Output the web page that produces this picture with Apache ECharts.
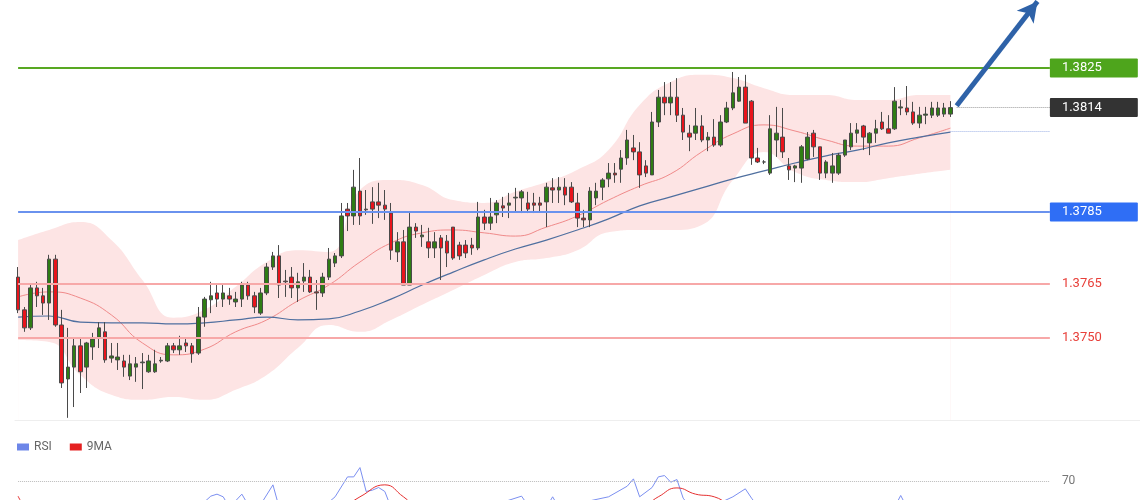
<!DOCTYPE html>
<html><head><meta charset="utf-8">
<script src="https://cdn.jsdelivr.net/npm/echarts@6/dist/echarts.min.js"></script>
<style>html,body{margin:0;padding:0;background:#fff}#c{width:1140px;height:500px}</style>
</head><body><div id="c"></div>
<script>
// candles: [open, close, low, high]
const candles = [
[1.37669,1.37578,1.37569,1.37697],[1.37578,1.37528,1.37517,1.37586],[1.37528,1.37639,1.37522,1.37647],[1.37639,1.37617,1.37586,1.37656],
[1.37617,1.37597,1.37564,1.37639],[1.37597,1.37719,1.37550,1.37731],[1.37719,1.37536,1.37531,1.37731],[1.37536,1.37375,1.37361,1.37578],
[1.37386,1.37419,1.37278,1.37528],[1.37419,1.37478,1.37308,1.37500],[1.37478,1.37406,1.37347,1.37497],[1.37419,1.37486,1.37361,1.37489],
[1.37475,1.37497,1.37439,1.37514],[1.37500,1.37528,1.37472,1.37544],[1.37517,1.37439,1.37431,1.37544],[1.37444,1.37450,1.37431,1.37486],
[1.37439,1.37447,1.37411,1.37486],[1.37436,1.37419,1.37392,1.37453],[1.37394,1.37428,1.37383,1.37453],[1.37419,1.37428,1.37378,1.37447],
[1.37431,1.37433,1.37358,1.37458],[1.37406,1.37436,1.37403,1.37453],[1.37406,1.37428,1.37403,1.37467],[1.37436,1.37438,1.37431,1.37447],
[1.37436,1.37478,1.37433,1.37486],[1.37478,1.37467,1.37458,1.37486],[1.37467,1.37478,1.37453,1.37506],[1.37486,1.37478,1.37461,1.37497],
[1.37478,1.37456,1.37431,1.37486],[1.37458,1.37558,1.37453,1.37586],[1.37558,1.37608,1.37531,1.37614],[1.37606,1.37617,1.37569,1.37656],
[1.37625,1.37608,1.37586,1.37647],[1.37608,1.37625,1.37586,1.37647],[1.37617,1.37608,1.37592,1.37639],[1.37600,1.37608,1.37586,1.37628],
[1.37608,1.37647,1.37586,1.37656],[1.37647,1.37617,1.37606,1.37656],[1.37617,1.37586,1.37569,1.37628],[1.37569,1.37625,1.37564,1.37639],
[1.37625,1.37697,1.37619,1.37708],[1.37697,1.37728,1.37689,1.37739],[1.37728,1.37647,1.37611,1.37758],[1.37658,1.37656,1.37614,1.37689],
[1.37669,1.37639,1.37611,1.37697],[1.37639,1.37656,1.37600,1.37681],[1.37658,1.37669,1.37628,1.37708],[1.37669,1.37628,1.37625,1.37689],
[1.37628,1.37625,1.37578,1.37661],[1.37625,1.37669,1.37614,1.37681],[1.37669,1.37719,1.37661,1.37750],[1.37708,1.37728,1.37697,1.37736],
[1.37728,1.37839,1.37722,1.37875],[1.37858,1.37839,1.37797,1.37875],[1.37839,1.37919,1.37814,1.37967],[1.37908,1.37839,1.37814,1.38000],
[1.37858,1.37856,1.37842,1.37911],[1.37878,1.37858,1.37817,1.37919],[1.37878,1.37869,1.37833,1.37931],[1.37869,1.37858,1.37828,1.37911],
[1.37847,1.37744,1.37717,1.37875],[1.37739,1.37767,1.37711,1.37794],[1.37767,1.37647,1.37647,1.37800],[1.37647,1.37808,1.37647,1.37847],
[1.37808,1.37797,1.37778,1.37819],[1.37781,1.37786,1.37753,1.37814],[1.37767,1.37750,1.37722,1.37806],[1.37750,1.37767,1.37722,1.37794],
[1.37778,1.37750,1.37661,1.37786],[1.37769,1.37736,1.37697,1.37786],[1.37808,1.37722,1.37717,1.37808],[1.37758,1.37728,1.37717,1.37767],
[1.37758,1.37736,1.37722,1.37772],[1.37758,1.37750,1.37731,1.37778],[1.37750,1.37836,1.37744,1.37878],[1.37836,1.37819,1.37800,1.37856],
[1.37819,1.37836,1.37800,1.37889],[1.37842,1.37875,1.37819,1.37883],[1.37867,1.37861,1.37836,1.37892],[1.37869,1.37875,1.37833,1.37903],
[1.37889,1.37891,1.37850,1.37917],[1.37889,1.37906,1.37847,1.37911],[1.37875,1.37858,1.37847,1.37906],[1.37875,1.37869,1.37847,1.37903],
[1.37875,1.37869,1.37850,1.37892],[1.37878,1.37919,1.37808,1.37931],[1.37917,1.37911,1.37875,1.37944],[1.37911,1.37919,1.37875,1.37947],
[1.37919,1.37897,1.37869,1.37944],[1.37919,1.37878,1.37875,1.37933],[1.37875,1.37833,1.37808,1.37903],[1.37833,1.37828,1.37808,1.37856],
[1.37828,1.37908,1.37808,1.37919],[1.37889,1.37908,1.37869,1.37931],[1.37919,1.37939,1.37883,1.37944],[1.37942,1.37958,1.37919,1.37986],
[1.37958,1.37953,1.37931,1.37986],[1.37969,1.38000,1.37931,1.38022],[1.38000,1.38050,1.37981,1.38078],[1.38028,1.38017,1.37994,1.38064],
[1.38017,1.37953,1.37917,1.38044],[1.37978,1.37958,1.37947,1.37994],[1.37953,1.38100,1.37953,1.38128],[1.38100,1.38169,1.38086,1.38189],
[1.38169,1.38153,1.38119,1.38211],[1.38153,1.38169,1.38119,1.38211],[1.38169,1.38119,1.38100,1.38222],[1.38119,1.38072,1.38050,1.38139],
[1.38069,1.38058,1.38019,1.38092],[1.38069,1.38089,1.38050,1.38139],[1.38089,1.38050,1.38044,1.38119],[1.38050,1.38058,1.38019,1.38072],
[1.38058,1.38036,1.38031,1.38108],[1.38036,1.38100,1.38031,1.38119],[1.38100,1.38139,1.38097,1.38156],[1.38139,1.38181,1.38133,1.38239],
[1.38158,1.38197,1.38156,1.38225],[1.38197,1.38097,1.38097,1.38231],[1.38158,1.38000,1.37981,1.38161],[1.38000,1.37989,1.37986,1.38028],
[1.37989,1.37989,1.37983,1.37994],[1.37958,1.38081,1.37953,1.38119],[1.38050,1.38069,1.38003,1.38142],[1.38058,1.38017,1.38000,1.38139],
[1.37978,1.37967,1.37939,1.38000],[1.37972,1.37978,1.37933,1.37981],[1.37972,1.38031,1.37931,1.38036],[1.37997,1.38058,1.37994,1.38072],
[1.38069,1.38031,1.38003,1.38078],[1.38031,1.37958,1.37939,1.38031],[1.37958,1.37989,1.37944,1.37994],[1.37958,1.37978,1.37931,1.38014],
[1.37958,1.38008,1.37953,1.38014],[1.38008,1.38050,1.38003,1.38050],[1.38031,1.38069,1.38022,1.38097],[1.38069,1.38078,1.38042,1.38097],
[1.38089,1.38058,1.38022,1.38092],[1.38042,1.38069,1.38008,1.38072],[1.38069,1.38081,1.38042,1.38106],[1.38100,1.38081,1.38078,1.38128],
[1.38081,1.38069,1.38069,1.38119],[1.38081,1.38158,1.38078,1.38197],[1.38139,1.38142,1.38119,1.38161],[1.38139,1.38128,1.38119,1.38200],
[1.38128,1.38097,1.38092,1.38156],[1.38097,1.38119,1.38083,1.38142],[1.38119,1.38122,1.38094,1.38142],[1.38119,1.38139,1.38111,1.38156],
[1.38119,1.38139,1.38114,1.38156],[1.38122,1.38139,1.38114,1.38153],[1.38122,1.38140,1.38114,1.38158]
];
const slotCount = 181;
const categories = Array.from({length: slotCount}, (_, i) => String(i));
const lineIdx = [0,5,10,15,20,25,30,35,40,45,50,55,60,65,70,75,80,85,90,95,100,105,110,115,120,125,130,135,140,145,150];
const maFast = [1.37614,1.37628,1.37611,1.37564,1.37486,1.37453,1.37469,1.37517,1.37550,1.37603,1.37647,1.37711,1.37764,1.37792,1.37800,1.37792,1.37783,1.37808,1.37839,1.37883,1.37922,1.37956,1.38017,1.38067,1.38092,1.38075,1.38050,1.38033,1.38033,1.38056,1.38083];
const maSlow = [1.37558,1.37561,1.37544,1.37542,1.37542,1.37539,1.37542,1.37550,1.37558,1.37550,1.37553,1.37575,1.37608,1.37647,1.37683,1.37717,1.37747,1.37772,1.37800,1.37831,1.37867,1.37892,1.37917,1.37942,1.37964,1.37986,1.38006,1.38022,1.38042,1.38058,1.38072];
const bandUpper = [1.37772,1.37800,1.37822,1.37772,1.37661,1.37556,1.37578,1.37642,1.37711,1.37744,1.37739,1.37911,1.37939,1.37925,1.37883,1.37875,1.37906,1.37933,1.37967,1.38022,1.38147,1.38211,1.38231,1.38222,1.38194,1.38175,1.38175,1.38161,1.38161,1.38175,1.38175];
const bandLower = [1.37494,1.37489,1.37397,1.37342,1.37328,1.37336,1.37328,1.37356,1.37397,1.37472,1.37536,1.37517,1.37550,1.37592,1.37633,1.37675,1.37711,1.37722,1.37744,1.37794,1.37800,1.37800,1.37814,1.37939,1.38017,1.37961,1.37939,1.37933,1.37944,1.37956,1.37967];
const rsiIdx = [0,10,20,29,31,32,33,34,35,36,37,39,41,42,49,51,53,54,55,56,57,58,59,60,63,72,81,83,85,86,87,95,98,99,100,102,103,104,105,106,107,109,115,117,118,120,141,142,143,150];
const rsiVal = [50,40,45,50,58.5,60,58,50,55,60,52,52,67,50,50,58,73,73,80,62,63,65,62,50,48,45,58.5,45,50,58,50,58,66,71.5,58,65,73,74,69,71,57,45,58,64,57,45,50,59,50,48];
const ma9Idx = [0,2,50,55,59,62,66,100,103,106,109,112,116,150];
const ma9Val = [58.5,50,45,58,67,58,45,50,58,64.7,60,58,50,47];
const levels = {r1: 1.3825, last: 1.3814, s1: 1.3785, s2: 1.3765, s3: 1.3750, top: 1.3845, maLevel: 1.38075};

const pairs = (idx, vals) => idx.map((k, j) => [k, vals[j]]);
const endIdx = 166, lastIdx = candles.length - 1;
function hline(v, color, width, type, labelOpt) {
  return [{coord: [0, v], lineStyle: {color, width, type}, label: labelOpt},
          {coord: [endIdx, v]}];
}
function boxLabel(text, bg) {
  return {show: true, position: 'end', distance: 0, formatter: text, color: '#fff', fontSize: 13,
          fontFamily: 'Roboto', backgroundColor: bg, padding: [3, 36, 3, 12], borderRadius: 1};
}
function plainLabel(text) {
  return {show: true, position: 'end', distance: 0, formatter: text, color: '#e8403a', fontSize: 13,
          fontFamily: 'Roboto', padding: [0, 0, 0, 12]};
}
const chart = echarts.init(document.getElementById('c'));
chart.setOption({
  animation: false,
  backgroundColor: '#fff',
  grid: [{left: 15, right: 0, top: 0, height: 420}, {left: 15, right: 0, top: 441, height: 59}],
  legend: {data: ['RSI', '9MA'], left: 12, top: 436, icon: 'rect', itemWidth: 12, itemHeight: 7, itemGap: 18,
           textStyle: {color: '#666', fontSize: 12, fontFamily: 'Roboto'}},
  xAxis: [
    {type: 'category', data: categories, gridIndex: 0, boundaryGap: true, axisLabel: {show: false}, axisTick: {show: false},
     axisLine: {show: true, lineStyle: {color: '#eeeeee'}}},
    {type: 'category', data: categories, gridIndex: 1, boundaryGap: true, show: false}
  ],
  yAxis: [
    {type: 'value', gridIndex: 0, min: 1.37272, max: 1.38439, show: false, splitLine: {show: false}},
    {type: 'value', gridIndex: 1, min: 55.6, max: 100, show: false, splitLine: {show: false}}
  ],
  series: [
    {type: 'line', data: pairs(lineIdx, bandUpper), smooth: true, symbol: 'none', z: 1,
     lineStyle: {width: 0}, areaStyle: {color: '#fde4e4', opacity: 1, origin: 'start'}},
    {type: 'line', data: pairs(lineIdx, bandLower), smooth: true, symbol: 'none', z: 1,
     lineStyle: {width: 0}, areaStyle: {color: '#ffffff', opacity: 1, origin: 'start'}},
    {type: 'line', data: pairs(lineIdx, maFast), smooth: true, symbol: 'none', z: 2, lineStyle: {color: '#f08a8a', width: 1}},
    {type: 'line', data: pairs(lineIdx, maSlow), smooth: true, symbol: 'none', z: 2, lineStyle: {color: '#4f6f9f', width: 1.2}},
    {type: 'candlestick', data: candles, barWidth: 4, z: 3,
     itemStyle: {color: '#2f7d14', color0: '#e8141c', borderColor: '#4a4a4a', borderColor0: '#4a4a4a', borderWidth: 1},
     markLine: {silent: true, symbol: 'none', animation: false, z: 4,
       data: [
         hline(levels.s2, '#f7a8a8', 2, 'solid', plainLabel('1.3765')),
         hline(levels.s3, '#f7a8a8', 2, 'solid', plainLabel('1.3750')),
         hline(levels.s1, '#6a92ee', 2, 'solid', boxLabel('1.3785', '#2f6ef5')),
         hline(levels.r1, '#58a822', 2, 'solid', boxLabel('1.3825', '#4ea51c')),
         [{coord: [lastIdx + 1, levels.last], lineStyle: {color: '#9a9a9a', width: 1, type: 'dotted'}, label: boxLabel('1.3814', '#333333')},
          {coord: [endIdx, levels.last]}],
         [{coord: [lastIdx, levels.maLevel], lineStyle: {color: '#9fb3e6', width: 1, type: 'dotted'}, label: {show: false}},
          {coord: [endIdx, levels.maLevel]}],
         [{coord: [endIdx - 0.01, levels.top], lineStyle: {width: 0}, label: boxLabel('1.3845', '#4ea51c')},
          {coord: [endIdx, levels.top]}],
         [{coord: [lastIdx + 0.8, levels.last + 0.00005], symbol: 'none', lineStyle: {color: '#2e62a8', width: 5, type: 'solid'}, label: {show: false}},
          {coord: [164.2, 1.38435], symbol: 'arrow', symbolSize: [16, 20]}]
       ]}},
    {name: 'RSI', type: 'line', xAxisIndex: 1, yAxisIndex: 1, data: pairs(rsiIdx, rsiVal), symbol: 'none',
     lineStyle: {color: '#7b8ff0', width: 1}, itemStyle: {color: '#6d86e8'},
     markLine: {silent: true, symbol: 'none', animation: false,
       data: [[{coord: [0, 70], lineStyle: {color: '#bbbbbb', width: 1, type: 'dotted'},
                label: {show: true, position: 'end', distance: 0, formatter: '70', color: '#777', fontSize: 12, fontFamily: 'Roboto', padding: [0,0,0,12]}},
               {coord: [endIdx, 70]}]]}},
    {name: '9MA', type: 'line', xAxisIndex: 1, yAxisIndex: 1, data: pairs(ma9Idx, ma9Val), smooth: true, symbol: 'none',
     lineStyle: {color: '#e53030', width: 1}, itemStyle: {color: '#e52020'}}
  ]
});
</script></body></html>
